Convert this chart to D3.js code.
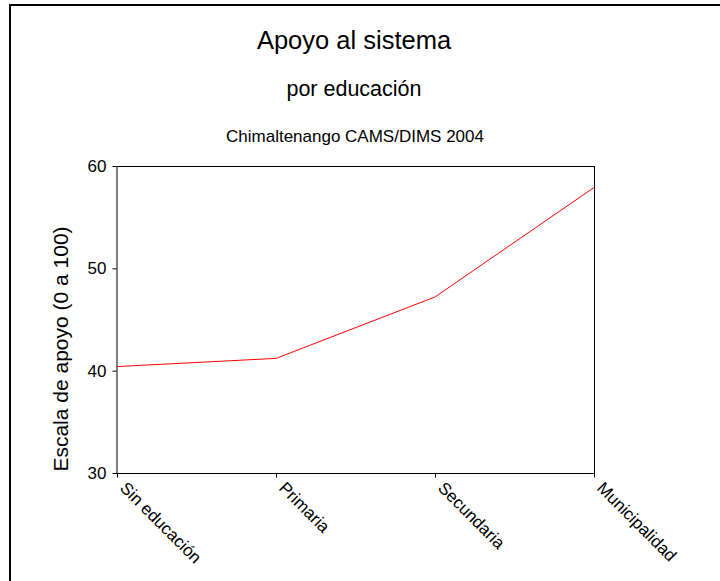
<!DOCTYPE html>
<html><head><meta charset="utf-8">
<script src="https://cdn.jsdelivr.net/npm/d3@7"></script>
<style>html,body{margin:0;padding:0;background:#fff;}svg{display:block;font-family:Arial,"Liberation Sans",sans-serif;}</style>
</head><body>
<script>
const categories = ["Sin educación", "Primaria", "Secundaria", "Municipalidad"];
const values = [40.4, 41.2, 47.2, 57.9];
const yTicks = [30, 40, 50, 60];
const titleText = "Apoyo al sistema";
const subtitleText = "por educación";
const sourceText = "Chimaltenango CAMS/DIMS 2004";
const yLabel = "Escala de apoyo (0 a 100)";

const W = 720, H = 581;
const svg = d3.select("body").append("svg").attr("width", W).attr("height", H);

// outer frame (top and left visible)
svg.append("line").attr("x1", 9).attr("x2", W).attr("y1", 5).attr("y2", 5).attr("stroke", "#000").attr("stroke-width", 2);
svg.append("line").attr("x1", 10).attr("x2", 10).attr("y1", 4).attr("y2", H).attr("stroke", "#000").attr("stroke-width", 2);

const L = 117, R = 594, T = 166, B = 473;
const x = d3.scalePoint().domain(categories).range([L, R]).padding(0);
const y = d3.scaleLinear().domain([30, 60]).range([B, T]);

svg.append("text").attr("x", 354).attr("y", 49).attr("text-anchor", "middle").attr("font-size", 25.5).text(titleText);
svg.append("text").attr("x", 354).attr("y", 96).attr("text-anchor", "middle").attr("font-size", 21.5).text(subtitleText);
svg.append("text").attr("x", 355).attr("y", 142).attr("text-anchor", "middle").attr("font-size", 17).text(sourceText);

// plot frame top and right
svg.append("line").attr("x1", L).attr("x2", R).attr("y1", T + 0.5).attr("y2", T + 0.5).attr("stroke", "#000");
svg.append("line").attr("x1", R + 0.5).attr("x2", R + 0.5).attr("y1", T).attr("y2", B).attr("stroke", "#000");

const yAxis = svg.append("g").attr("transform", `translate(${L - 0.5},0)`)
  .call(d3.axisLeft(y).tickValues(yTicks).tickSize(4).tickPadding(6).tickSizeOuter(0));
yAxis.selectAll("text").attr("font-size", 17).attr("fill", "#000").attr("font-family", "Arial, Liberation Sans, sans-serif");
yAxis.select(".domain").attr("stroke", "#000");

const xAxis = svg.append("g").attr("transform", `translate(0,${B + 0.5})`)
  .call(d3.axisBottom(x).tickSize(4).tickSizeOuter(0).tickFormat(""));
xAxis.select(".domain").attr("stroke", "#000").attr("d", `M${L - 4},0H${R + 1}`);

const xl = svg.append("g");
xl.selectAll("text").data(categories).join("text")
  .attr("transform", d => `translate(${x(d) + 2},${B + 16}) rotate(45)`)
  .attr("font-size", 17).attr("text-anchor", "start")
  .text(d => d);

svg.append("text").attr("transform", `translate(68,349) rotate(-90)`)
  .attr("text-anchor", "middle").attr("font-size", 21).text(yLabel);

const line = d3.line().x((d, i) => x(categories[i])).y(d => y(d));
svg.append("path").datum(values).attr("d", line).attr("fill", "none").attr("stroke", "#ff0000").attr("stroke-width", 1);
</script>
</body></html>
